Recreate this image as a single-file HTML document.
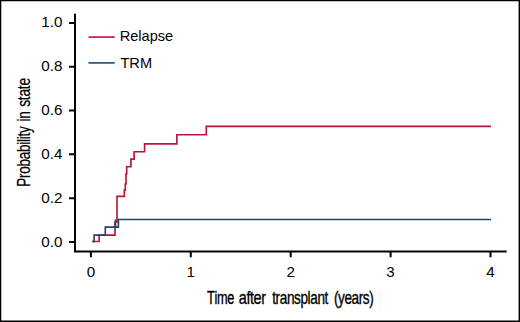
<!DOCTYPE html>
<html><head><meta charset="utf-8">
<title>Probability in state: Relapse and TRM</title>
<style>
html,body{margin:0;padding:0;background:#fff;}
body{width:520px;height:322px;overflow:hidden;}
svg{display:block;}
.t text{font-family:"Liberation Sans",sans-serif;fill:#000;font-kerning:none;font-variant-ligatures:none;}
</style></head>
<body>
<svg width="520" height="322" viewBox="0 0 520 322">
<rect x="0" y="0" width="520" height="322" fill="#fff"/>
<path d="M0 0H520V322H0Z M1.3 1.2V320.6H518.6V1.2Z" fill="#000" fill-rule="evenodd"/>
<path d="M75 13.8V252.5M74 251.5H506.6M69 242.00H75M69 198.18H75M69 154.36H75M69 110.54H75M69 66.72H75M69 22.90H75M90.90 251V257.3M190.80 251V257.3M290.70 251V257.3M390.60 251V257.3M490.50 251V257.3" stroke="#000" stroke-width="2" fill="none"/>
<g class="t" font-size="15.2" text-anchor="end">
<text x="62.4" y="27.40">1.0</text>
<text x="62.4" y="71.22">0.8</text>
<text x="62.4" y="115.04">0.6</text>
<text x="62.4" y="158.86">0.4</text>
<text x="62.4" y="202.68">0.2</text>
<text x="62.4" y="246.50">0.0</text>
</g>
<g class="t" font-size="15.2" text-anchor="middle">
<text x="90.90" y="276.70">0</text>
<text x="190.80" y="276.70">1</text>
<text x="290.70" y="276.70">2</text>
<text x="390.60" y="276.70">3</text>
<text x="490.50" y="276.70">4</text>
</g>
<g class="t">
<text transform="translate(207.063 303.970) scale(0.70551 1)" font-size="18.1" letter-spacing="-0.530" stroke="#000" stroke-width="0.3" vector-effect="non-scaling-stroke">Time</text>
<text transform="translate(238.838 303.970) scale(0.79631 1)" font-size="18.1" letter-spacing="-0.530" stroke="#000" stroke-width="0.3" vector-effect="non-scaling-stroke">after</text>
<text transform="translate(272.244 303.970) scale(0.75092 1)" font-size="18.1" letter-spacing="-0.530" stroke="#000" stroke-width="0.3" vector-effect="non-scaling-stroke">transplant</text>
<text transform="translate(333.907 303.970) scale(0.75066 1)" font-size="18.1" letter-spacing="-0.530" stroke="#000" stroke-width="0.3" vector-effect="non-scaling-stroke">(years)</text>
<text transform="translate(29.600 186.708) rotate(-90) scale(0.74226 1)" font-size="18.2" letter-spacing="-0.355" stroke="#000" stroke-width="0.2" vector-effect="non-scaling-stroke">Probability</text>
<text transform="translate(29.600 121.607) rotate(-90) scale(0.74492 1)" font-size="18.2" letter-spacing="-0.355" stroke="#000" stroke-width="0.2" vector-effect="non-scaling-stroke">in</text>
<text transform="translate(29.600 106.785) rotate(-90) scale(0.75981 1)" font-size="18.2" letter-spacing="-0.355" stroke="#000" stroke-width="0.2" vector-effect="non-scaling-stroke">state</text>
</g>
<path d="M88.5 37.1H114.8" stroke="#bb1439" stroke-width="1.6"/>
<path d="M88.5 62.9H114.8" stroke="#1d4674" stroke-width="1.6"/>
<g class="t" font-size="14.6">
<text x="119.63" y="41.30">Relapse</text>
<text x="120.43" y="67.50">TRM</text>
</g>
<path fill="none" stroke="#bb1439" stroke-width="1.65" d="M92.2 241.5H99.1V235.1H115V222H117V196.4H124.3V190.1H125.3V184H126V174H126.7V166.7H130.9V159.1H134.1V151.7H144.6V143.9H176.9V134.7H206.3V126.3H491"/>
<path fill="none" stroke="#1d4674" stroke-width="1.65" d="M92.2 241.5H94.1V235.1H105.3V227.1H118.4V219.5H491M115.5 227.1V219.5"/>
</svg>
</body></html>
